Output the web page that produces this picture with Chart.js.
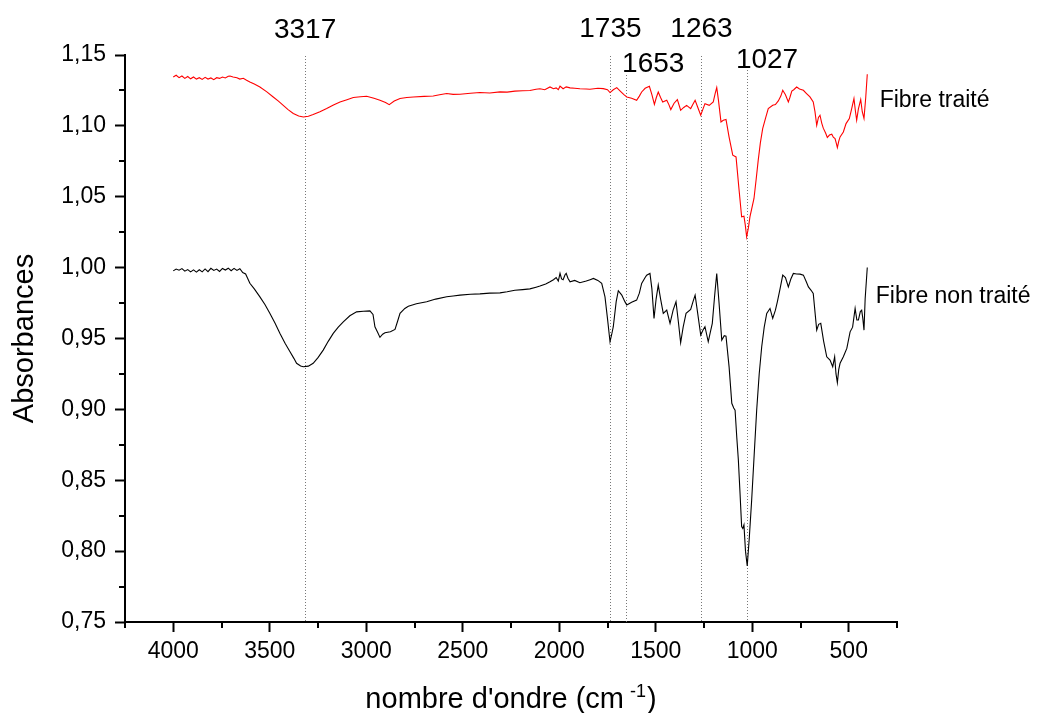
<!DOCTYPE html>
<html lang="fr">
<head>
<meta charset="UTF-8">
<title>Spectres IR - fibres</title>
<script src="https://cdn.jsdelivr.net/npm/chart.js@4/dist/chart.umd.min.js"></script>
<style>
  html, body { margin: 0; padding: 0; background: #fff; }
  canvas { display: block; }
</style>
</head>
<body>
<canvas id="spectre" width="1038" height="713"></canvas>
<script>
// Fibre non traité (noir)
const brutWn = [4000,3985,3970,3955,3940,3925,3910,3895,3880,3865,3850,3835,3820,3805,3790,3775,3760,3745,3730,3715,3700,3685,3670,3655,3640,3625,3603,3580,3551,3525,3499,3473,3447,3420,3395,3375,3361,3340,3326,3300,3275,3250,3223,3197,3171,3145,3119,3085,3050,3015,2981,2965,2955,2940,2929,2915,2903,2875,2851,2838,2825,2800,2782,2740,2687,2640,2583,2550,2514,2460,2411,2360,2307,2270,2230,2190,2152,2120,2100,2070,2048,2030,2016,2005,1996,1988,1980,1970,1964,1955,1944,1920,1893,1860,1840,1823,1800,1780,1763,1750,1737,1728,1720,1705,1694,1676,1660,1650,1625,1599,1585,1573,1555,1547,1530,1520,1509,1498,1487,1475,1461,1443,1426,1410,1395,1383,1371,1358,1343,1319,1307,1296,1285,1267,1255,1245,1228,1218,1207,1195,1184,1172,1158,1145,1136,1120,1106,1096,1089,1080,1072,1063,1055,1049,1043,1035,1026,1015,1003,990,977,964,951,938,925,908,894,880,870,856,842,828,813,800,787,770,752,735,720,709,695,684,666,656,645,630,614,597,583,573,566,559,552,545,528,510,493,480,467,458,450,440,433,427,421,415,404];
const brutAbs = [0.9977,0.9990,0.9982,0.9993,0.9975,0.9986,0.9970,0.9984,0.9968,0.9985,0.9970,0.9991,0.9972,0.9995,0.9980,0.9990,0.9973,0.9994,0.9983,0.9996,0.9978,0.9995,0.9980,0.9992,0.9965,0.9955,0.9890,0.9850,0.9794,0.9740,0.9677,0.9610,0.9536,0.9465,0.9406,0.9360,0.9325,0.9306,0.9301,0.9305,0.9325,0.9365,0.9418,0.9480,0.9536,0.9580,0.9618,0.9660,0.9688,0.9692,0.9695,0.9670,0.9583,0.9540,0.9508,0.9530,0.9540,0.9548,0.9564,0.9620,0.9677,0.9712,0.9728,0.9745,0.9759,0.9778,0.9794,0.9800,0.9806,0.9812,0.9815,0.9820,0.9822,0.9830,0.9840,0.9845,0.9850,0.9862,0.9870,0.9885,0.9900,0.9915,0.9930,0.9905,0.9960,0.9920,0.9915,0.9950,0.9960,0.9925,0.9900,0.9910,0.9893,0.9905,0.9915,0.9924,0.9910,0.9889,0.9794,0.9640,0.9477,0.9530,0.9583,0.9760,0.9837,0.9806,0.9760,0.9736,0.9755,0.9771,0.9820,0.9889,0.9930,0.9947,0.9959,0.9850,0.9642,0.9780,0.9877,0.9780,0.9677,0.9700,0.9607,0.9700,0.9759,0.9620,0.9470,0.9580,0.9677,0.9705,0.9760,0.9806,0.9700,0.9524,0.9560,0.9583,0.9477,0.9540,0.9607,0.9800,0.9959,0.9750,0.9489,0.9520,0.9517,0.9300,0.9043,0.9010,0.8995,0.8800,0.8643,0.8400,0.8173,0.8160,0.8185,0.8000,0.7896,0.8100,0.8361,0.8680,0.8995,0.9250,0.9442,0.9580,0.9677,0.9712,0.9642,0.9700,0.9759,0.9850,0.9947,0.9930,0.9864,0.9920,0.9959,0.9955,0.9954,0.9947,0.9900,0.9864,0.9840,0.9818,0.9559,0.9600,0.9607,0.9480,0.9371,0.9348,0.9301,0.9371,0.9250,0.9188,0.9280,0.9325,0.9371,0.9430,0.9547,0.9580,0.9712,0.9630,0.9630,0.9690,0.9700,0.9640,0.9559,0.9780,1.0001];

// Fibre traité (rouge)
const traiteWn = [4000,3985,3970,3955,3940,3925,3910,3895,3880,3865,3850,3835,3820,3805,3790,3775,3760,3745,3730,3715,3706,3690,3670,3655,3637,3620,3603,3580,3551,3515,3482,3455,3430,3405,3378,3350,3326,3300,3275,3240,3205,3170,3136,3100,3067,3030,2998,2960,2929,2900,2881,2855,2825,2790,2756,2700,2653,2620,2583,2550,2514,2460,2411,2360,2307,2270,2230,2190,2152,2120,2100,2075,2048,2030,2016,2005,1996,1980,1964,1944,1920,1893,1860,1841,1800,1772,1750,1737,1720,1702,1680,1665,1650,1625,1599,1585,1573,1555,1533,1520,1507,1497,1487,1475,1464,1443,1432,1422,1405,1388,1371,1355,1340,1319,1308,1296,1282,1267,1255,1245,1223,1202,1192,1184,1175,1162,1150,1136,1120,1101,1084,1069,1055,1043,1036,1029,1020,1012,991,980,969,958,946,930,917,894,880,865,852,842,828,813,805,795,785,770,755,735,720,701,684,675,666,657,649,640,632,620,611,600,588,580,571,565,559,552,545,528,514,497,485,473,466,459,450,438,430,421,412,404];
const traiteAbs = [1.1345,1.1357,1.1340,1.1352,1.1335,1.1348,1.1332,1.1345,1.1330,1.1340,1.1328,1.1342,1.1330,1.1338,1.1326,1.1340,1.1335,1.1345,1.1338,1.1350,1.1352,1.1345,1.1340,1.1330,1.1336,1.1322,1.1310,1.1295,1.1274,1.1240,1.1204,1.1175,1.1145,1.1115,1.1087,1.1070,1.1063,1.1068,1.1080,1.1100,1.1122,1.1148,1.1169,1.1185,1.1200,1.1205,1.1209,1.1195,1.1181,1.1165,1.1150,1.1175,1.1193,1.1200,1.1204,1.1208,1.1211,1.1220,1.1228,1.1222,1.1223,1.1230,1.1235,1.1232,1.1240,1.1238,1.1245,1.1248,1.1250,1.1258,1.1262,1.1255,1.1275,1.1262,1.1268,1.1255,1.1280,1.1262,1.1275,1.1268,1.1265,1.1262,1.1260,1.1258,1.1265,1.1263,1.1255,1.1235,1.1255,1.1270,1.1240,1.1220,1.1204,1.1195,1.1181,1.1210,1.1239,1.1265,1.1279,1.1220,1.1152,1.1200,1.1239,1.1200,1.1169,1.1181,1.1150,1.1115,1.1160,1.1186,1.1110,1.1130,1.1145,1.1122,1.1150,1.1181,1.1130,1.1075,1.1120,1.1157,1.1145,1.1169,1.1230,1.1270,1.1180,1.1028,1.1040,1.1045,1.0920,1.0793,1.0781,1.0558,1.0358,1.0363,1.0300,1.0217,1.0280,1.0358,1.0488,1.0620,1.0758,1.0880,1.0981,1.1060,1.1122,1.1145,1.1150,1.1176,1.1210,1.1251,1.1220,1.1169,1.1200,1.1246,1.1255,1.1274,1.1260,1.1251,1.1230,1.1204,1.1169,1.1100,1.1004,1.1060,1.1075,1.1020,1.0984,1.0950,1.0918,1.0935,1.0941,1.0920,1.0911,1.0880,1.0847,1.0890,1.0922,1.0957,1.1016,1.1052,1.1120,1.1193,1.1110,1.1040,1.1120,1.1186,1.1100,1.1052,1.1200,1.1364];

const bandes = [3317, 1735, 1653, 1263, 1027];
const xTicks = [4000, 3500, 3000, 2500, 2000, 1500, 1000, 500];
const yTicks = [0.75, 0.80, 0.85, 0.90, 0.95, 1.00, 1.05, 1.10, 1.15];

const FONT = '"Liberation Sans", Arial, sans-serif';
Chart.defaults.font.family = FONT;
Chart.defaults.color = '#000';

const pts = (wn, abs) => wn.map((v, i) => ({ x: v, y: abs[i] }));

// position des étiquettes de bandes : décalage horizontal, ligne de base, haut du pointillé
const bandeLayout = [
  { dx: 0, base: 38, top: 56 },
  { dx: 0, base: 37, top: 56 },
  { dx: 27, base: 72, top: 75 },
  { dx: 0, base: 37, top: 56 },
  { dx: 20, base: 68, top: 70 }
];
const serieLabels = [
  { text: 'Fibre traité', wn: 340, abs: 1.1131 },
  { text: 'Fibre non traité', wn: 360, abs: 0.975 }
];

const decor = {
  id: 'decor',
  beforeDatasetsDraw(chart) {
    const { ctx, chartArea: a, scales: { x } } = chart;
    ctx.save();
    ctx.strokeStyle = '#777';
    ctx.lineWidth = 1;
    ctx.setLineDash([1, 2]);
    bandes.forEach((b, i) => {
      const px = Math.round(x.getPixelForValue(b)) + 0.5;
      ctx.beginPath();
      ctx.moveTo(px, bandeLayout[i].top);
      ctx.lineTo(px, a.bottom);
      ctx.stroke();
    });
    ctx.restore();
  },
  afterDraw(chart) {
    const { ctx, chartArea: a, scales: { x, y } } = chart;
    ctx.save();
    // petites graduations
    ctx.strokeStyle = '#000';
    ctx.lineWidth = 2;
    ctx.beginPath();
    const xMinor = xTicks.map(v => v + 250).concat([250]);
    const yMinor = yTicks.slice(0, -1).map(v => v + 0.025);
    xMinor.forEach(v => {
      const px = Math.round(x.getPixelForValue(v));
      ctx.moveTo(px, a.bottom);
      ctx.lineTo(px, a.bottom + 6);
    });
    yMinor.forEach(v => {
      const py = Math.round(y.getPixelForValue(v));
      ctx.moveTo(a.left, py);
      ctx.lineTo(a.left - 6, py);
    });
    ctx.stroke();

    ctx.fillStyle = '#000';
    ctx.textBaseline = 'alphabetic';

    // numéros des bandes
    ctx.font = '28px ' + FONT;
    ctx.textAlign = 'center';
    bandes.forEach((b, i) => {
      const px = x.getPixelForValue(b) + bandeLayout[i].dx;
      ctx.fillText(String(b), px, bandeLayout[i].base);
    });

    // noms des séries
    ctx.font = '23px ' + FONT;
    ctx.textAlign = 'left';
    serieLabels.forEach(l => {
      ctx.fillText(l.text, x.getPixelForValue(l.wn), y.getPixelForValue(l.abs));
    });

    // titre de l'axe x avec exposant
    const t1 = "nombre d'ondre (cm", t2 = '-1', t3 = ')';
    ctx.font = '29px ' + FONT;
    const w1 = ctx.measureText(t1).width, w3 = ctx.measureText(t3).width;
    ctx.font = '18px ' + FONT;
    const w2 = ctx.measureText(t2).width;
    const gap = 6;
    const total = w1 + gap + w2 + 1 + w3;
    let cx = (a.left + a.right) / 2 - total / 2;
    const base = 708;
    ctx.font = '29px ' + FONT;
    ctx.fillText(t1, cx, base);
    cx += w1 + gap;
    ctx.font = '18px ' + FONT;
    ctx.fillText(t2, cx, base - 11);
    cx += w2 + 1;
    ctx.font = '29px ' + FONT;
    ctx.fillText(t3, cx, base);
    ctx.restore();
  }
};

new Chart(document.getElementById('spectre'), {
  type: 'line',
  data: {
    datasets: [
      {
        label: 'Fibre traité',
        data: pts(traiteWn, traiteAbs),
        borderColor: '#ff0000',
        borderWidth: 1.1,
        pointRadius: 0,
        tension: 0
      },
      {
        label: 'Fibre non traité',
        data: pts(brutWn, brutAbs),
        borderColor: '#000000',
        borderWidth: 1.1,
        pointRadius: 0,
        tension: 0
      }
    ]
  },
  options: {
    responsive: false,
    animation: false,
    layout: { padding: { top: 55, right: 141, left: 0, bottom: 0 } },
    plugins: { legend: { display: false }, tooltip: { enabled: false } },
    scales: {
      x: {
        type: 'linear',
        reverse: true,
        min: 250,
        max: 4250,
        afterBuildTicks: s => { s.ticks = xTicks.map(v => ({ value: v })); },
        afterFit: s => { s.height = 91; },
        ticks: { font: { size: 23 }, padding: 6, maxRotation: 0, autoSkip: false, callback: v => String(v) },
        grid: { display: true, drawOnChartArea: false, drawTicks: true, tickLength: 10, tickWidth: 2, tickColor: '#000' },
        border: { display: true, color: '#000', width: 2 },
        title: { display: false }
      },
      y: {
        min: 0.75,
        max: 1.15,
        afterBuildTicks: s => { s.ticks = yTicks.map(v => ({ value: v })); },
        afterFit: s => { s.width = 125; },
        ticks: { font: { size: 23 }, padding: 9, callback: v => v.toFixed(2).replace('.', ',') },
        grid: { display: true, drawOnChartArea: false, drawTicks: true, tickLength: 10, tickWidth: 2, tickColor: '#000' },
        border: { display: true, color: '#000', width: 2 },
        title: { display: true, text: 'Absorbances', font: { size: 29 }, padding: { top: 8, bottom: 0 } }
      }
    }
  },
  plugins: [decor]
});
</script>
</body>
</html>
